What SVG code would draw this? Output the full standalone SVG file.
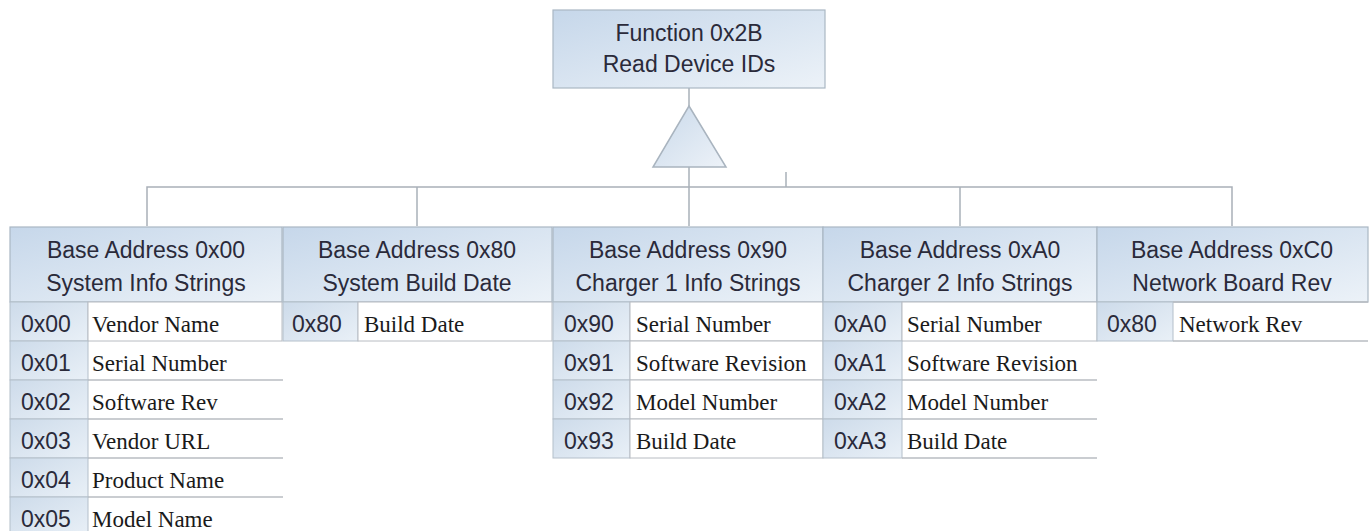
<svg xmlns="http://www.w3.org/2000/svg" width="1371" height="531" viewBox="0 0 1371 531">
<defs>
<linearGradient id="gHead" x1="0" y1="0" x2="1" y2="1">
<stop offset="0" stop-color="#c6d7ea"/>
<stop offset="1" stop-color="#ecf2f8"/>
</linearGradient>
<linearGradient id="gKey" x1="0" y1="0" x2="1" y2="1">
<stop offset="0" stop-color="#cddbea"/>
<stop offset="1" stop-color="#e9f0f7"/>
</linearGradient>
<linearGradient id="gTri" x1="0" y1="0" x2="1" y2="1">
<stop offset="0" stop-color="#c9d9ea"/>
<stop offset="1" stop-color="#edf2f8"/>
</linearGradient>
</defs>
<style>
.hd{fill:url(#gHead);stroke:#aab7c4;stroke-width:1.2}
.key{fill:url(#gKey);stroke:#b4bfca;stroke-width:1}
.val{fill:#ffffff;stroke:#b8bcc2;stroke-width:1}
.rl{stroke:#b8bcc2;stroke-width:1.5}
.conn{fill:none;stroke:#a9b0b8;stroke-width:1.5}
.tri{fill:url(#gTri);stroke:#a9b4bf;stroke-width:1.5}
.sans{font-family:"Liberation Sans",Arial,sans-serif;font-size:23px;fill:#2a2a3a}
.mid{text-anchor:middle}
.ser{font-family:"Liberation Serif","Times New Roman",serif;font-size:23px;fill:#1a1a1a}
</style>
<rect width="1371" height="531" fill="#ffffff"/>

<g id="connectors">
<line class="conn" x1="689" y1="88" x2="689" y2="106"/>
<line class="conn" x1="689" y1="167" x2="689" y2="187"/>
<polyline class="conn" points="147,226 147,187 1232,187 1232,226"/>
<line class="conn" x1="417" y1="187" x2="417" y2="226"/>
<line class="conn" x1="689" y1="187" x2="689" y2="226"/>
<line class="conn" x1="960" y1="187" x2="960" y2="226"/>
<line class="conn" x1="786" y1="172" x2="786" y2="187"/>
<polygon class="tri" points="689,106 726,167 653,167"/>
</g>

<g id="root">
<rect class="hd" x="553" y="10" width="272" height="78"/>
<text class="sans mid" x="689" y="41">Function 0x2B</text>
<text class="sans mid" x="689" y="72">Read Device IDs</text>
</g>

<g id="col-0x00">
<rect class="hd" x="10" y="227" width="272" height="75"/>
<text class="sans mid" x="146" y="258">Base Address 0x00</text>
<text class="sans mid" x="146" y="291">System Info Strings</text>
<rect class="key" x="10" y="302" width="78" height="39"/><rect class="val" x="88" y="302" width="194" height="39"/>
<rect class="key" x="10" y="341" width="78" height="39"/><line class="rl" x1="88" y1="380" x2="283" y2="380"/>
<rect class="key" x="10" y="380" width="78" height="39"/><line class="rl" x1="88" y1="419" x2="283" y2="419"/>
<rect class="key" x="10" y="419" width="78" height="39"/><line class="rl" x1="88" y1="458" x2="283" y2="458"/>
<rect class="key" x="10" y="458" width="78" height="39"/><line class="rl" x1="88" y1="497" x2="283" y2="497"/>
<rect class="key" x="10" y="497" width="78" height="39"/>
<text class="sans" x="21" y="332">0x00</text><text class="ser" x="92" y="332">Vendor Name</text>
<text class="sans" x="21" y="371">0x01</text><text class="ser" x="92" y="371">Serial Number</text>
<text class="sans" x="21" y="410">0x02</text><text class="ser" x="92" y="410">Software Rev</text>
<text class="sans" x="21" y="449">0x03</text><text class="ser" x="92" y="449">Vendor URL</text>
<text class="sans" x="21" y="488">0x04</text><text class="ser" x="92" y="488">Product Name</text>
<text class="sans" x="21" y="527">0x05</text><text class="ser" x="92" y="527">Model Name</text>
</g>

<g id="col-0x80">
<rect class="hd" x="283" y="227" width="269" height="75"/>
<text class="sans mid" x="417" y="258">Base Address 0x80</text>
<text class="sans mid" x="417" y="291">System Build Date</text>
<rect class="key" x="283" y="302" width="75" height="39"/><rect class="val" x="358" y="302" width="194" height="39"/>
<text class="sans" x="292" y="332">0x80</text><text class="ser" x="364" y="332">Build Date</text>
</g>

<g id="col-0x90">
<rect class="hd" x="553" y="227" width="270" height="75"/>
<text class="sans mid" x="688" y="258">Base Address 0x90</text>
<text class="sans mid" x="688" y="291">Charger 1 Info Strings</text>
<rect class="key" x="553" y="302" width="77" height="39"/><rect class="val" x="630" y="302" width="193" height="39"/>
<rect class="key" x="553" y="341" width="77" height="39"/><rect class="val" x="630" y="341" width="193" height="39"/>
<rect class="key" x="553" y="380" width="77" height="39"/><rect class="val" x="630" y="380" width="193" height="39"/>
<rect class="key" x="553" y="419" width="77" height="39"/><rect class="val" x="630" y="419" width="193" height="39"/>
<text class="sans" x="564" y="332">0x90</text><text class="ser" x="636" y="332">Serial Number</text>
<text class="sans" x="564" y="371">0x91</text><text class="ser" x="636" y="371">Software Revision</text>
<text class="sans" x="564" y="410">0x92</text><text class="ser" x="636" y="410">Model Number</text>
<text class="sans" x="564" y="449">0x93</text><text class="ser" x="636" y="449">Build Date</text>
</g>

<g id="col-0xA0">
<rect class="hd" x="823" y="227" width="274" height="75"/>
<text class="sans mid" x="960" y="258">Base Address 0xA0</text>
<text class="sans mid" x="960" y="291">Charger 2 Info Strings</text>
<rect class="key" x="823" y="302" width="79" height="39"/><rect class="val" x="902" y="302" width="195" height="39"/>
<rect class="key" x="823" y="341" width="79" height="39"/><line class="rl" x1="902" y1="380" x2="1097" y2="380"/>
<rect class="key" x="823" y="380" width="79" height="39"/><line class="rl" x1="902" y1="419" x2="1097" y2="419"/>
<rect class="key" x="823" y="419" width="79" height="39"/><line class="rl" x1="902" y1="458" x2="1097" y2="458"/>
<text class="sans" x="834" y="332">0xA0</text><text class="ser" x="907" y="332">Serial Number</text>
<text class="sans" x="834" y="371">0xA1</text><text class="ser" x="907" y="371">Software Revision</text>
<text class="sans" x="834" y="410">0xA2</text><text class="ser" x="907" y="410">Model Number</text>
<text class="sans" x="834" y="449">0xA3</text><text class="ser" x="907" y="449">Build Date</text>
</g>

<g id="col-0xC0">
<rect class="hd" x="1097" y="227" width="271" height="75"/>
<text class="sans mid" x="1232" y="258">Base Address 0xC0</text>
<text class="sans mid" x="1232" y="291">Network Board Rev</text>
<rect class="key" x="1097" y="302" width="76" height="39"/><line class="rl" x1="1173" y1="302" x2="1368" y2="302"/><line class="rl" x1="1173" y1="341" x2="1368" y2="341"/>
<text class="sans" x="1107" y="332">0x80</text><text class="ser" x="1179" y="332">Network Rev</text>
</g>
</svg>
